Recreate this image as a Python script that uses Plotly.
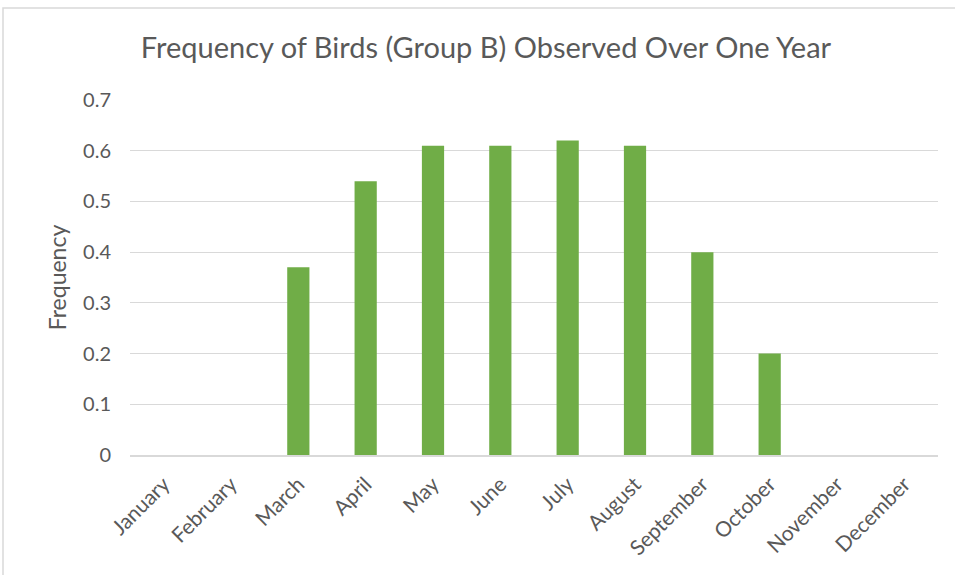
import plotly.graph_objects as go

months = ["January", "February", "March", "April", "May", "June", "July",
          "August", "September", "October", "November", "December"]
frequency = [0, 0, 0.37, 0.54, 0.61, 0.61, 0.62, 0.61, 0.40, 0.20, 0, 0]
y_ticks = [0, 0.1, 0.2, 0.3, 0.4, 0.5, 0.6, 0.7]
y_tick_labels = ["0", "0.1", "0.2", "0.3", "0.4", "0.5", "0.6", "0.7"]

W, H = 955, 575
L, R, T, B = 130, 17, 100, 120
pw, ph = W - L - R, H - T - B

fig = go.Figure(go.Bar(
    x=months, y=frequency,
    marker=dict(color="#70AD47", line=dict(width=0)),
    width=0.33,
))

font_family = "Lato, Open Sans, sans-serif"
fig.update_layout(
    width=W, height=H,
    margin=dict(l=L, r=R, t=T, b=B, autoexpand=False),
    paper_bgcolor="white", plot_bgcolor="white",
    font=dict(family=font_family, color="#595959"),
    title=dict(text="Frequency of Birds (Group B) Observed Over One Year",
               x=486 / W, xref="container", xanchor="center",
               y=1 - 48 / H, yref="container", yanchor="middle",
               font=dict(size=29, color="#595959")),
    showlegend=False,
    xaxis=dict(tickangle=-45, tickfont=dict(size=21, color="#595959"),
               showgrid=False, showline=True, linecolor="#d9d9d9", linewidth=1.5,
               ticks="", ticklabelstandoff=7, automargin=False),
    yaxis=dict(range=[0, 0.7], tickvals=y_ticks, ticktext=y_tick_labels,
               tickfont=dict(size=20, color="#595959"),
               showgrid=True, gridcolor="#d9d9d9", gridwidth=1.3,
               zeroline=False, showline=False, ticks="",
               ticklabelstandoff=18, automargin=False,
               title=dict(text="Frequency", font=dict(size=23, color="#595959"),
                          standoff=10)),
    shapes=[dict(type="rect", xref="paper", yref="paper",
                 x0=(3 - L) / pw, x1=(W + 10 - L) / pw,
                 y0=(T + ph - (H + 10)) / ph, y1=(T + ph - 8) / ph,
                 line=dict(color="#d9d9d9", width=1.5), fillcolor="rgba(0,0,0,0)",
                 layer="below")],
)

fig.write_html("out.html", config={"displayModeBar": False},
               post_script="document.body.style.margin='0';document.body.style.overflow='hidden';")
